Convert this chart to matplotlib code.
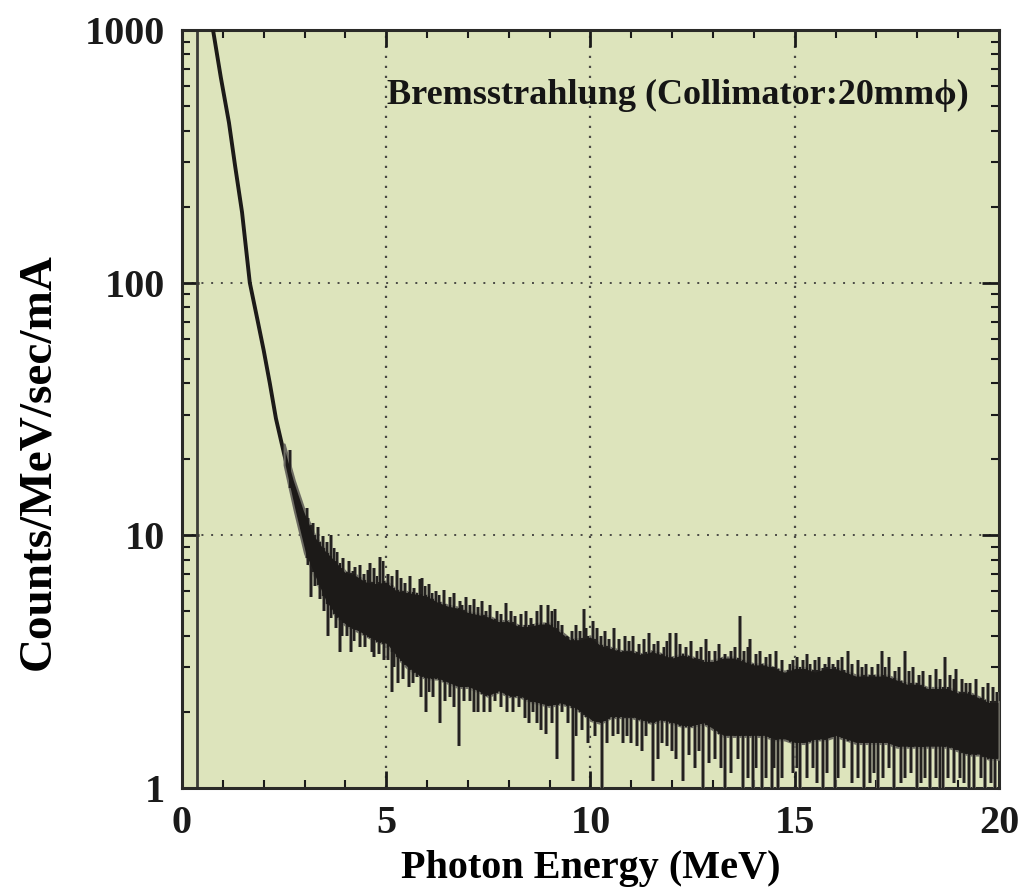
import numpy as np
import matplotlib.pyplot as plt
from matplotlib.ticker import FixedLocator, NullFormatter

# steep low-energy part of the spectrum (MeV, counts/MeV/sec/mA)
steep_e = [0.72, 0.76, 0.95, 1.15, 1.30, 1.47, 1.66, 1.85, 2.00, 2.15, 2.30, 2.50, 2.70, 2.90]
steep_c = [1150, 1000, 650, 430, 290, 190, 100, 71, 54, 40, 29, 21, 15.5, 11.0]

# dense noisy band of the tail: upper / lower edge
band_e = [2.50, 2.75, 3.00, 3.25, 3.50, 3.75, 4.00, 4.25, 4.50, 4.75,
          5.00, 5.25, 5.50, 5.75, 6.00, 6.25, 6.50, 6.75, 7.00, 7.25,
          7.50, 7.75, 8.00, 8.25, 8.50, 8.75, 9.00, 9.25, 9.50, 9.75,
          10.0, 10.25, 10.5, 10.75, 11.0, 11.25, 11.5, 11.75, 12.0, 12.25,
          12.5, 12.75, 13.0, 13.25, 13.5, 13.75, 14.0, 14.25, 14.5, 14.75,
          15.0, 15.25, 15.5, 15.75, 16.0, 16.25, 16.5, 16.75, 17.0, 17.25,
          17.5, 17.75, 18.0, 18.25, 18.5, 18.75, 19.0, 19.25, 19.5, 19.75, 20.0]
band_hi = [23.0, 16.5, 12.5, 10.0, 8.8, 8.0, 7.2, 7.0, 6.6, 6.5,
           6.6, 6.1, 6.0, 5.9, 5.8, 5.5, 5.3, 5.2, 5.0, 4.9,
           4.8, 4.6, 4.6, 4.4, 4.4, 4.5, 4.5, 4.2, 3.9, 3.9,
           4.0, 3.7, 3.6, 3.5, 3.5, 3.4, 3.5, 3.4, 3.3, 3.4,
           3.3, 3.2, 3.2, 3.3, 3.3, 3.2, 3.1, 3.1, 3.0, 2.9,
           3.0, 3.0, 2.9, 3.0, 3.0, 2.9, 2.8, 2.8, 2.8, 2.8,
           2.7, 2.6, 2.6, 2.5, 2.5, 2.5, 2.4, 2.4, 2.3, 2.2, 2.2]
band_lo = [19.0, 12.5, 8.5, 6.8, 5.5, 4.8, 4.4, 4.2, 4.0, 3.8,
           3.7, 3.3, 3.0, 2.8, 2.7, 2.7, 2.6, 2.5, 2.5, 2.4,
           2.3, 2.4, 2.3, 2.3, 2.2, 2.15, 2.1, 2.15, 2.1, 2.0,
           1.85, 1.8, 1.9, 1.9, 1.9, 1.85, 1.8, 1.85, 1.8, 1.75,
           1.75, 1.8, 1.7, 1.6, 1.6, 1.6, 1.6, 1.6, 1.55, 1.55,
           1.5, 1.5, 1.55, 1.55, 1.6, 1.55, 1.5, 1.5, 1.5, 1.5,
           1.45, 1.45, 1.45, 1.45, 1.45, 1.45, 1.4, 1.35, 1.35, 1.3, 1.3]

# single-channel fluctuations sticking up out of the band
spike_up_e = [2.64, 3.05, 3.20, 3.33, 3.45, 3.55, 3.66, 3.72, 3.80, 3.87, 3.95,
              4.08, 4.18, 4.23, 4.35, 4.45, 4.55, 4.60, 4.70, 4.78, 4.85, 4.93,
              5.05, 5.15, 5.26, 5.35, 5.45, 5.58, 5.68, 5.83, 5.87, 5.95,
              6.05, 6.12, 6.22, 6.30, 6.42, 6.55, 6.65, 6.80, 6.85, 6.95,
              7.05, 7.15, 7.25, 7.34, 7.45, 7.55, 7.70, 7.82, 7.93,
              8.05, 8.15, 8.30, 8.42, 8.55, 8.68, 8.80, 8.95,
              9.05, 9.13, 9.20, 9.30, 9.42, 9.55, 9.65, 9.75, 9.84, 9.90,
              10.05, 10.16, 10.25, 10.35, 10.45, 10.58, 10.70, 10.85, 10.95,
              11.05, 11.20, 11.30, 11.43, 11.55, 11.65, 11.80, 11.88, 11.95,
              12.10, 12.20, 12.35, 12.45, 12.60, 12.70, 12.82, 12.90,
              13.05, 13.15, 13.30, 13.43, 13.55, 13.66, 13.75, 13.85, 13.90,
              14.05, 14.15, 14.30, 14.40, 14.55, 14.70, 14.88, 14.95,
              15.05, 15.20, 15.30, 15.37, 15.50, 15.60, 15.75, 15.85, 15.94,
              16.05, 16.15, 16.30, 16.40, 16.55, 16.65, 16.75, 16.90,
              17.05, 17.13, 17.20, 17.30, 17.45, 17.55, 17.70, 17.80, 17.90,
              18.05, 18.15, 18.30, 18.47, 18.55, 18.68, 18.80, 18.90, 18.96,
              19.10, 19.20, 19.30, 19.45, 19.60, 19.73, 19.85, 19.95]
spike_up_c = [21.7, 12.8, 11.2, 10.8, 9.9, 9.4, 10.0, 8.9, 8.6, 7.8, 8.1,
              7.9, 7.2, 7.5, 7.6, 7.0, 7.3, 7.8, 7.4, 6.9, 8.2, 7.9,
              7.0, 6.9, 7.3, 6.8, 6.5, 6.9, 6.2, 6.7, 6.8, 6.3,
              6.4, 5.9, 6.0, 5.8, 6.1, 5.7, 5.9, 5.5, 5.3, 5.7,
              5.3, 5.6, 5.2, 5.5, 5.0, 5.3, 5.0, 4.9, 5.4,
              5.0, 4.8, 4.9, 5.0, 4.7, 5.0, 5.3, 5.3,
              5.0, 5.1, 4.6, 4.4, 4.0, 4.2, 4.4, 4.2, 5.1, 4.3,
              4.6, 4.3, 4.0, 4.2, 3.9, 4.3, 3.9, 4.0, 3.8,
              4.0, 3.7, 3.9, 4.1, 3.7, 3.8, 3.6, 3.8, 4.1,
              4.1, 3.7, 3.6, 3.8, 3.5, 3.6, 3.9, 3.5,
              3.5, 3.7, 3.4, 3.5, 3.6, 4.8, 3.5, 3.6, 3.9,
              3.4, 3.5, 3.3, 3.4, 3.5, 3.2, 3.1, 3.2,
              3.3, 3.2, 3.4, 3.1, 3.2, 3.3, 3.1, 3.3, 3.1,
              3.2, 3.3, 3.5, 3.1, 3.2, 3.0, 3.1, 3.0,
              3.1, 3.5, 3.0, 3.3, 2.9, 3.0, 3.5, 2.9, 3.0,
              2.8, 2.9, 2.8, 2.95, 2.7, 3.3, 2.8, 2.7, 2.95,
              2.7, 2.6, 2.6, 2.7, 2.5, 2.6, 2.5, 2.4]

# and the ones dipping below it
spike_dn_e = [3.08, 3.15, 3.25, 3.38, 3.48, 3.58, 3.65, 3.78, 3.87, 3.92,
              4.05, 4.13, 4.20, 4.35, 4.48, 4.64, 4.70, 4.82, 4.95,
              5.05, 5.13, 5.20, 5.30, 5.42, 5.55, 5.65, 5.75, 5.85, 5.97,
              6.05, 6.15, 6.32, 6.45, 6.55, 6.65, 6.78, 6.90,
              7.05, 7.15, 7.25, 7.40, 7.55, 7.66, 7.80, 7.95,
              8.10, 8.25, 8.40, 8.50, 8.60, 8.70, 8.80, 8.91,
              9.05, 9.18, 9.30, 9.45, 9.57, 9.65, 9.80, 9.95,
              10.10, 10.27, 10.40, 10.55, 10.67, 10.80, 10.90,
              11.00, 11.13, 11.25, 11.35, 11.53, 11.65, 11.75, 11.87, 12.00,
              12.10, 12.26, 12.40, 12.55, 12.65, 12.75, 12.90, 13.05,
              13.20, 13.29, 13.45, 13.60, 13.74, 13.85, 13.98,
              14.05, 14.19, 14.30, 14.44, 14.50, 14.60, 14.70, 14.84, 14.95,
              15.05, 15.13, 15.30, 15.45, 15.55, 15.69, 15.80, 15.98,
              16.05, 16.20, 16.40, 16.55, 16.70, 16.85, 16.95,
              17.03, 17.15, 17.30, 17.43, 17.60, 17.70, 17.85, 17.99,
              18.10, 18.20, 18.30, 18.45, 18.55, 18.63, 18.75, 18.90,
              19.05, 19.15, 19.27, 19.40, 19.55, 19.67, 19.80, 19.90]
spike_dn_c = [7.6, 5.7, 6.3, 5.6, 5.0, 4.0, 4.7, 4.3, 3.45, 4.0,
              4.0, 3.45, 3.8, 3.6, 3.6, 3.45, 3.3, 3.4, 3.2,
              3.2, 2.4, 3.0, 2.6, 2.7, 2.5, 2.6, 2.75, 2.3, 2.0,
              2.4, 2.3, 1.8, 2.2, 2.3, 2.1, 1.47, 2.2,
              2.2, 2.0, 2.0, 2.0, 2.0, 2.2, 2.1, 2.0,
              2.0, 2.1, 1.9, 1.8, 2.0, 1.8, 1.7, 1.63,
              1.8, 1.3, 2.0, 1.8, 1.07, 1.6, 1.7, 1.5,
              1.6, 1.0, 1.5, 1.6, 1.63, 1.5, 1.6,
              1.5, 1.47, 1.4, 1.6, 1.07, 1.3, 1.5, 1.47, 1.4,
              1.3, 1.07, 1.35, 1.2, 1.4, 1.0, 1.25, 1.3,
              1.2, 1.0, 1.15, 1.3, 1.0, 1.1, 1.0,
              1.2, 1.0, 1.1, 1.0, 1.2, 1.0, 1.1, 1.87, 1.15,
              1.2, 1.0, 1.1, 1.2, 1.05, 1.0, 1.15, 1.0,
              1.1, 1.2, 1.05, 1.1, 1.0, 1.05, 1.15,
              1.0, 1.1, 1.2, 1.0, 1.05, 1.1, 1.15, 1.0,
              1.05, 1.1, 1.0, 1.1, 1.0, 1.0, 1.1, 1.05,
              1.1, 1.05, 1.0, 1.0, 1.1, 1.0, 1.05, 1.0]

threshold_e = 0.37
ink = '#1c1a18'
halftone = '#6c6b62'

plt.rcParams['font.family'] = ['Liberation Serif', 'DejaVu Serif']
plt.rcParams['font.weight'] = 'bold'

fig = plt.figure(figsize=(10.27, 8.93), dpi=100)
ax = fig.add_axes([0.1772, 0.1176, 0.7955, 0.8488])
ax.set_facecolor('#dde4bc')

ax.set_yscale('log')
ax.set_xlim(0, 20)
ax.set_ylim(1, 1000)

# dotted grid
for gx in [5, 10, 15]:
    ax.axvline(gx, color='#4a4a45', lw=1.6, ls=(0, (1, 3.5)), zorder=1)
for gy in [10, 100]:
    ax.axhline(gy, color='#4a4a45', lw=1.4, ls=(0, (1, 4)), zorder=1)

ax.axvline(threshold_e, color='#3c3c38', lw=2.0, zorder=2)

# spectrum
ax.plot(steep_e, steep_c, color=ink, lw=2.8, zorder=4, solid_capstyle='butt')
ax.fill_between(band_e, band_lo, band_hi, color=ink, lw=1.5, edgecolor=halftone, zorder=4)
lo_up = np.interp(spike_up_e, band_e, band_lo)
hi_dn = np.interp(spike_dn_e, band_e, band_hi)
ax.vlines(spike_up_e, lo_up, spike_up_c, color=halftone, lw=2.6, zorder=3)
ax.vlines(spike_up_e, lo_up, spike_up_c, color=ink, lw=1.3, zorder=5)
ax.vlines(spike_dn_e, spike_dn_c, hi_dn, color=halftone, lw=2.6, zorder=3)
ax.vlines(spike_dn_e, spike_dn_c, hi_dn, color=ink, lw=1.3, zorder=5)

ax.text(12.14, 553, 'Bremsstrahlung (Collimator:20mm\u03d5)', fontsize=26,
        fontweight='bold', ha='center', va='center', color='#151515', zorder=6)

ax.xaxis.set_major_locator(FixedLocator([0, 5, 10, 15, 20]))
ax.xaxis.set_minor_locator(FixedLocator(np.arange(0, 21, 1)))
ax.yaxis.set_major_locator(FixedLocator([1, 10, 100, 1000]))
ax.yaxis.set_minor_locator(FixedLocator([m * d for d in [1, 10, 100] for m in range(2, 10)]))
ax.yaxis.set_minor_formatter(NullFormatter())
ax.set_yticklabels(['1', '10', '100', '1000'])

ax.tick_params(which='both', direction='in', top=True, right=True, colors='#1a1a1a')
ax.tick_params(which='major', length=12, width=2, labelsize=29, pad=12)
ax.tick_params(which='minor', length=6, width=1.5)
for s in ax.spines.values():
    s.set_linewidth(2.2)
    s.set_color('#2a2a28')

ax.set_xlabel('Photon Energy (MeV)', fontsize=29, fontweight='bold', labelpad=6)
ax.set_ylabel('Counts/MeV/sec/mA', fontsize=34, fontweight='bold')
ax.yaxis.set_label_coords(-0.15, 0.43)

fig.savefig('out.png', dpi=100)
